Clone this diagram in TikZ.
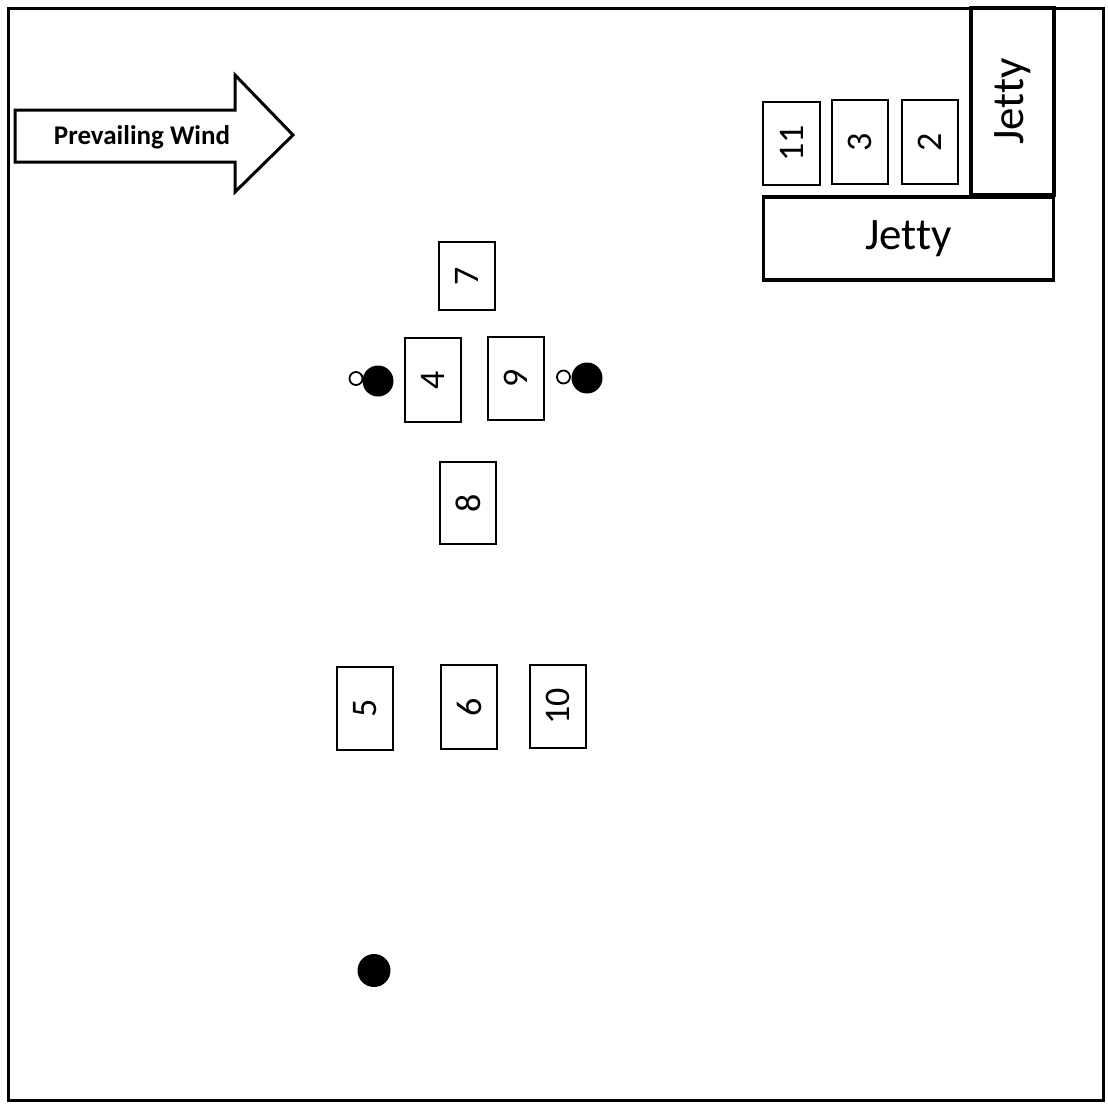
\documentclass[tikz,border=0pt]{standalone}
\usepackage{fontspec}
\setmainfont{Carlito}[Ligatures=NoCommon]
\begin{document}
\begin{tikzpicture}[x=1pt,y=-1pt,
  box/.style={draw, line width=2pt, rotate=90, inner sep=0pt, font=\fontsize{36}{36}\selectfont},
  jettybox/.style={draw, line width=3.2pt, inner sep=0pt, font=\fontsize{45}{45}\selectfont},
  bigdot/.style={circle, fill=black, inner sep=0pt, minimum size=31pt},
  smalldot/.style={circle, draw, line width=1.8pt, fill=white, inner sep=0pt, minimum size=13pt}]
\useasboundingbox (0,0) rectangle (1108,1104);
% frame
\draw[line width=3pt] (8,8) rectangle (1103,1100);
% wind arrow
\draw[line width=3pt, line join=miter] (15,110) -- (235,110) -- (235,75) -- (293,135) -- (235,192) -- (235,162) -- (15,162) -- cycle;
\node[font=\fontsize{27}{27}\selectfont\bfseries] (wind) at (142,137) {Prevailing Wind};
% jetties
\node[jettybox, minimum width=83pt, minimum height=187pt] (jv) at (1012.5,101.5) {};
\node[rotate=90, font=\fontsize{45}{45}\selectfont] (jvt) at (jv.center) {Jetty};
\node[jettybox, minimum width=290pt, minimum height=83pt] (jh) at (908.5,238.5) {Jetty};
% boxes
\node[box, minimum width=83pt, minimum height=57pt] (b11) at (791.5,143.5) {11};
\node[box, minimum width=84pt, minimum height=56pt] (b3) at (860,142) {3};
\node[box, minimum width=84pt, minimum height=56pt] (b2) at (930,142) {2};
\node[box, minimum width=68pt, minimum height=56pt] (b7) at (467,276) {7};
\node[box, minimum width=84pt, minimum height=56pt] (b4) at (433,380) {4};
\node[box, minimum width=83pt, minimum height=56pt] (b9) at (516,378.5) {9};
\node[box, minimum width=82pt, minimum height=56pt] (b8) at (468,503) {8};
\node[box, minimum width=83pt, minimum height=56pt] (b5) at (365,708.5) {5};
\node[box, minimum width=84pt, minimum height=56pt] (b6) at (469,707) {6};
\node[box, minimum width=83pt, minimum height=56pt] (b10) at (558,706.5) {10};
% dots
\node[smalldot] (s1) at (356,378.5) {};
\node[bigdot] (d1) at (378,381) {};
\node[smalldot] (s2) at (563.5,377) {};
\node[bigdot] (d2) at (587,378) {};
\node[bigdot, minimum size=33pt] (d3) at (374,970.5) {};
\end{tikzpicture}
\end{document}
